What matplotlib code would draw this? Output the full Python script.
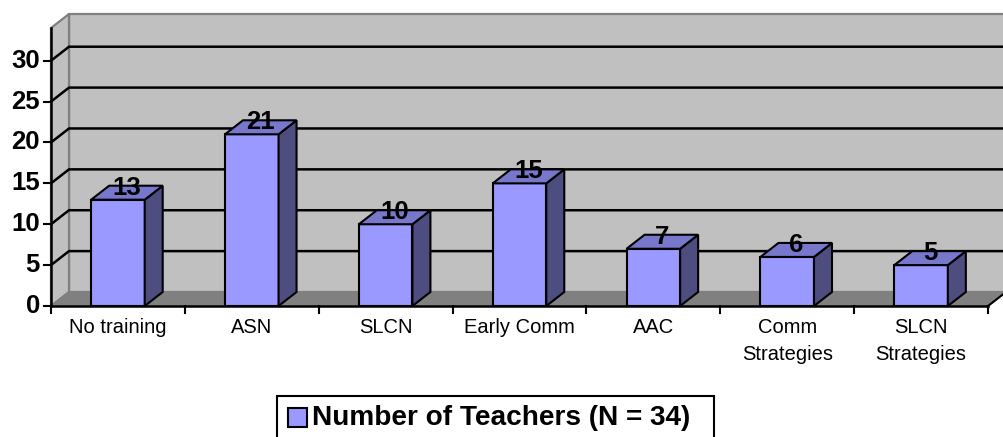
import matplotlib
matplotlib.use("Agg")
import matplotlib.pyplot as plt
from matplotlib.patches import Polygon, Rectangle

plt.rcParams['font.family'] = ['Liberation Sans', 'DejaVu Sans']

categories = ["No training", "ASN", "SLCN", "Early Comm", "AAC",
              "Comm\nStrategies", "SLCN\nStrategies"]
values = [13, 21, 10, 15, 7, 6, 5]
yticks = [0, 5, 10, 15, 20, 25, 30]
series_name = "Number of Teachers (N = 34)"

FRONT = "#9999ff"
TOP = "#7777cc"
SIDE = "#4d4d80"
WALL = "#c0c0c0"
FLOOR = "#808080"
WALLEDGE = "#808080"

W, H = 1004, 437
fig = plt.figure(figsize=(W / 100, H / 100), dpi=100)
fig.patch.set_facecolor("white")

x0_px, x1_px, y0_px, ytop_px = 51, 988, 306, 28
ymax = 34
ax = fig.add_axes([x0_px / W, (H - y0_px) / H, (x1_px - x0_px) / W, (y0_px - ytop_px) / H])
n = len(categories)
ax.set_xlim(-0.5, n - 0.5)
ax.set_ylim(0, ymax)
ax.axis("off")

PXX = (x1_px - x0_px) / n
PXY = (y0_px - ytop_px) / ymax
DX = 18 / PXX
DY = 14 / PXY
L, R = -0.5, n - 0.5

def poly(pts, fc, ec="black", lw=1.5, z=1):
    ax.add_patch(Polygon(pts, closed=True, facecolor=fc, edgecolor=ec,
                         linewidth=lw, zorder=z, clip_on=False, joinstyle="miter"))

# back wall
poly([(L + DX, DY), (R + DX, DY), (R + DX, ymax + DY), (L + DX, ymax + DY)],
     WALL, ec=WALLEDGE, lw=1.6, z=1)
# side wall
poly([(L, 0), (L + DX, DY), (L + DX, ymax + DY), (L, ymax)], WALL, ec=WALLEDGE, lw=1.6, z=1)

# gridlines
for v in yticks[1:]:
    ax.plot([L, L + DX, R + DX], [v, v + DY, v + DY], color="black", lw=1.8,
            zorder=2, clip_on=False, solid_joinstyle="miter")

# floor
poly([(L, 0), (R, 0), (R + DX, DY), (L + DX, DY)], FLOOR, ec=WALLEDGE, lw=1.2, z=3)
ax.plot([R, R + DX], [0, DY], color="black", lw=1.5, zorder=3.5, clip_on=False)

# bars
bw = 0.4
for i, v in enumerate(values):
    l, r = i - bw / 2, i + bw / 2
    poly([(l, 0), (r, 0), (r, v), (l, v)], FRONT, z=5)
    poly([(r, 0), (r + DX, DY), (r + DX, v + DY), (r, v)], SIDE, z=5)
    poly([(l, v), (r, v), (r + DX, v + DY), (l + DX, v + DY)], TOP, z=5)
    ax.text(i + DX / 2, v + 1.45, str(v), ha="center", va="center",
            fontsize=18.5, fontweight="bold", color="black", zorder=8, clip_on=False)

# front axes
ax.plot([L, L], [0, ymax], color="black", lw=1.8, zorder=6, clip_on=False)
ax.plot([L, R], [0, 0], color="black", lw=1.8, zorder=6, clip_on=False)

# y ticks
tick_len_x = 7 / PXX
for v in yticks:
    ax.plot([L - tick_len_x, L], [v, v], color="black", lw=1.5, zorder=6, clip_on=False)
    ax.text(L - 11 / PXX, v, str(v), ha="right", va="center", fontsize=18.5,
            fontweight="bold", color="black", clip_on=False)

# x ticks at category boundaries
tick_len_y = 7 / PXY
for k in range(n + 1):
    xb = L + k
    ax.plot([xb, xb], [0, -tick_len_y], color="black", lw=1.5, zorder=6, clip_on=False)

for i, c in enumerate(categories):
    ax.text(i, -12 / PXY, c, ha="center", va="top", fontsize=14.5,
            color="black", linespacing=1.55, clip_on=False)

# legend (manual)
def fx(p):
    return p / W
def fy(p):
    return 1 - p / H

fig.patches.append(Rectangle((fx(277), fy(439)), fx(714) - fx(277), fy(396) - fy(439),
                             transform=fig.transFigure, facecolor="white",
                             edgecolor="black", linewidth=1.5, zorder=10))
fig.patches.append(Rectangle((fx(288), fy(427)), fx(307) - fx(288), fy(408) - fy(427),
                             transform=fig.transFigure, facecolor=FRONT,
                             edgecolor="black", linewidth=1.5, zorder=11))
fig.text(fx(312), fy(418), series_name, ha="left", va="center", fontsize=20.2,
         fontweight="bold", color="black", zorder=12)

fig.savefig("out.png", dpi=100)
